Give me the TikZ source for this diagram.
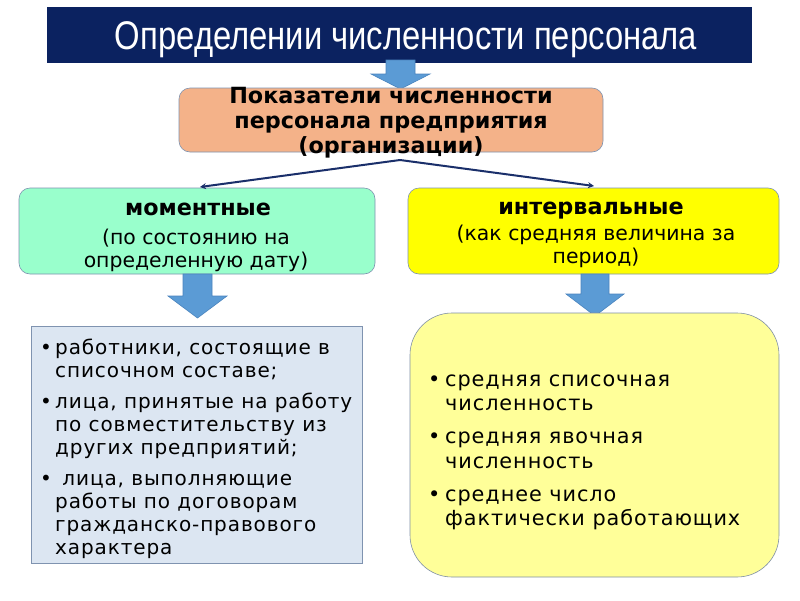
\documentclass[tikz,border=0pt]{standalone}
\usepackage{fontspec}
\setmainfont{DejaVu Sans}
\newfontfamily\titlefont[FakeStretch=0.82]{Liberation Sans}
\newfontfamily\spacedfont[LetterSpace=4.5]{DejaVu Sans}
\definecolor{navy}{HTML}{0B2260}
\definecolor{orangebox}{HTML}{F4B289}
\definecolor{mint}{HTML}{99FFCC}
\definecolor{yellowbox}{HTML}{FFFF00}
\definecolor{arrowblue}{HTML}{5B9BD5}
\definecolor{arrowedge}{HTML}{4A84BE}
\definecolor{lightblue}{HTML}{DCE6F2}
\definecolor{lightyellow}{HTML}{FFFF99}
\definecolor{boxedge}{HTML}{7F93B0}
\definecolor{linknavy}{HTML}{1A2F6A}
\usetikzlibrary{arrows.meta}
\tikzset{
  blockarrow/.style={fill=arrowblue, draw=arrowedge, line width=0.6pt},
  roundbox/.style={draw=boxedge, line width=0.6pt, rounded corners=11pt},
  link/.style={draw=linknavy, line width=2pt, -{Stealth[length=6pt,width=6pt]}},
  boldtxt/.style={font=\fontsize{22.3}{25}\selectfont\bfseries, align=center, inner sep=0pt},
  normtxt/.style={font=\fontsize{20.4}{23}\selectfont, align=center, inner sep=0pt},
  listtxt/.style={font=\spacedfont\fontsize{20}{23}\selectfont, align=left, inner sep=0pt, anchor=north west},
  listtxtR/.style={font=\spacedfont\fontsize{20.8}{24.5}\selectfont, align=left, inner sep=0pt, anchor=north west},
}
\newcommand{\bul}{\makebox[15pt][l]{•}}
\newcommand{\ind}{\hspace*{15pt}}
\newcommand{\bulR}{\makebox[17pt][l]{•}}
\newcommand{\indR}{\hspace*{17pt}}
\begin{document}
\begin{tikzpicture}[x=1pt,y=-1pt]
\useasboundingbox[fill=white] (0,0) rectangle (800,600);
% title
\fill[navy] (47,7) rectangle (752,63);
\node[text=white, font=\titlefont\fontsize{40}{44}\selectfont, inner sep=0pt] (title) at (406,40) {Определении численности персонала};
% top arrow
\path[blockarrow] (386,60) -- (415,60) -- (415,74) -- (430,74) -- (400.5,89) -- (371,74) -- (386,74) -- cycle;
% top box
\path[roundbox, fill=orangebox] (179,88) rectangle (603,152);
\node[boldtxt] (top) at (391,123) {Показатели численности\\персонала предприятия\\(организации)};
\coordinate (split) at (400,160);
% middle boxes
\node[roundbox, fill=mint, minimum width=356pt, minimum height=86pt, inner sep=0pt] (moment) at (197,231) {};
\node[roundbox, fill=yellowbox, minimum width=371pt, minimum height=86pt, inner sep=0pt] (interval) at (593.5,231) {};
\node[boldtxt] (momentT) at (198,209) {моментные};
\node[normtxt] (momentS) at (196,250) {(по состоянию на\\определенную дату)};
\node[boldtxt] (intervalT) at (591,210.5) {интервальные};
\node[normtxt] (intervalS) at (596,246.5) {(как средняя величина за\\период)};
\coordinate (mtop) at (200,187);
\coordinate (itop) at (594,186);
\draw[link] (split) -- (mtop);
\draw[link] (split) -- (itop);
% lower arrows
\path[blockarrow] (183,274) -- (212,274) -- (212,296) -- (227,296) -- (197.5,318) -- (168,296) -- (183,296) -- cycle;
\path[blockarrow] (581,274) -- (609,274) -- (609,294) -- (624,294) -- (595,316) -- (566,294) -- (581,294) -- cycle;
% lower boxes
\path[fill=lightblue, draw=boxedge, line width=0.6pt] (31,326) rectangle (362,563);
\node[listtxt] (leftlist) at (40,339) {\bul работники, состоящие в\\\ind списочном составе;\\[8pt]\bul лица, принятые на работу\\\ind по совместительству из\\\ind других предприятий;\\[8pt]\bul\ лица, выполняющие\\\ind работы по договорам\\\ind гражданско-правового\\\ind характера};
\path[fill=lightyellow, draw=boxedge!80!gray, line width=0.6pt, rounded corners=42pt] (410,313) rectangle (779,577);
\node[listtxtR] (rightlist) at (428,374.5) {\bulR средняя списочная\\\indR численность\\[8.5pt]\bulR средняя явочная\\\indR численность\\[8.5pt]\bulR среднее число\\\indR фактически работающих};
\end{tikzpicture}
\end{document}
